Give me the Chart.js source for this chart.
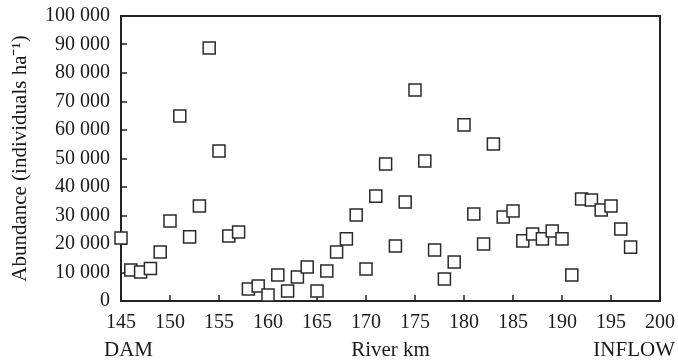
<!DOCTYPE html>
<html>
<head>
<meta charset="utf-8">
<script src="https://cdn.jsdelivr.net/npm/chart.js@4.4.0/dist/chart.umd.min.js"></script>
<style>
  html, body { margin: 0; padding: 0; background: #fff; }
  #wrap { width: 678px; height: 363px; }
</style>
</head>
<body>
<div id="wrap"><canvas id="grafico" width="678" height="363"></canvas></div>
<script>
// datos
const riverKm = [145, 146, 147, 148, 149, 150, 151, 152, 153, 154, 155, 156, 157, 158, 159, 160, 161, 162,
  163, 164, 165, 166, 167, 168, 169, 170, 171, 172, 173, 174, 175, 176, 177, 178, 179, 180, 181, 182,
  183, 184, 185, 186, 187, 188, 189, 190, 191, 192, 193, 194, 195, 196, 197];
const abundance = [22100, 10900, 10200, 11400, 17200, 28100, 64900, 22500, 33300, 88800, 52600, 22800, 24200,
  4200, 5300, 2100, 9100, 3500, 8400, 11900, 3500, 10500, 17200, 21800, 30200, 11200, 36800, 48100,
  19300, 34700, 74000, 49100, 17900, 7700, 13700, 61800, 30500, 20000, 55100, 29500, 31600, 21100,
  23500, 21800, 24600, 21800, 9100, 35800, 35400, 31900, 33300, 25300, 18900];
const xTicks = [145, 150, 155, 160, 165, 170, 175, 180, 185, 190, 195, 200];
const yTicks = [0, 10000, 20000, 30000, 40000, 50000, 60000, 70000, 80000, 90000, 100000];

const serif = '"Liberation Serif", "Times New Roman", serif';
const ink = '#1a1a1a';

function conEspacios(v) {
  return String(v).replace(/\B(?=(\d{3})+(?!\d))/g, ' ');
}

// marco con rectangulos rellenos (ejes, borde superior/derecho y ticks hacia dentro)
function dibujarMarco(chart) {
  const ctx = chart.ctx;
  const a = chart.chartArea;
  const x = chart.scales.x, y = chart.scales.y;
  const l = Math.round(a.left), r = Math.round(a.right), t = Math.round(a.top), b = Math.round(a.bottom);
  ctx.save();
  ctx.fillStyle = '#222';
  ctx.fillRect(l - 1, t - 1, r - l + 2, 2);
  ctx.fillRect(l - 1, b - 1, r - l + 2, 2);
  ctx.fillRect(l - 1, t - 1, 2, b - t + 2);
  ctx.fillRect(r - 1, t - 1, 2, b - t + 2);
  xTicks.forEach(v => {
    const px = Math.round(x.getPixelForValue(v));
    ctx.fillRect(px - 0.75, b - 6, 1.5, 6);
  });
  yTicks.forEach(v => {
    const py = Math.round(y.getPixelForValue(v));
    ctx.fillRect(l, py - 0.75, 6, 1.5);
  });
  ctx.restore();
}

const marco = {
  id: 'marco',
  beforeDatasetsDraw(chart) {
    dibujarMarco(chart);
  },
  afterDraw(chart) {
    const ctx = chart.ctx;
    ctx.save();
    ctx.fillStyle = ink;
    ctx.font = '21px ' + serif;
    ctx.textBaseline = 'middle';
    ctx.textAlign = 'left';
    ctx.fillText('DAM', 104, 350.5);
    ctx.textAlign = 'right';
    ctx.fillText('INFLOW', 675, 350.5);
    ctx.restore();
  }
};

function sinRelleno(s) {
  s.paddingTop = 0; s.paddingBottom = 0; s.paddingLeft = 0; s.paddingRight = 0;
}

new Chart(document.getElementById('grafico').getContext('2d'), {
  type: 'scatter',
  data: {
    datasets: [{
      label: 'Abundance',
      data: riverKm.map((km, i) => ({ x: km, y: abundance[i] })),
      pointStyle: 'rect',
      pointRadius: 8.5,
      pointBorderWidth: 1.5,
      pointBorderColor: '#2a2a2a',
      pointBackgroundColor: '#fff',
      clip: false
    }]
  },
  options: {
    responsive: false,
    devicePixelRatio: 1,
    animation: false,
    events: [],
    layout: { autoPadding: false, padding: { top: 16, right: 18, left: 0, bottom: 0 } },
    plugins: { legend: { display: false }, tooltip: { enabled: false } },
    scales: {
      x: {
        type: 'linear',
        min: 145, max: 200,
        afterFit(s) { s.height = 62; sinRelleno(s); },
        afterBuildTicks(s) { s.ticks = xTicks.map(v => ({ value: v })); },
        grid: { display: false, drawTicks: false },
        border: { display: false },
        ticks: { font: { family: serif, size: 20 }, color: ink, padding: 10, maxRotation: 0 },
        title: {
          display: true, text: 'River km', color: ink,
          font: { family: serif, size: 21, lineHeight: 1.2 },
          padding: { top: 0, bottom: 0 }
        }
      },
      y: {
        min: 0, max: 100000,
        afterFit(s) { s.width = 121; sinRelleno(s); },
        afterBuildTicks(s) { s.ticks = yTicks.map(v => ({ value: v })); },
        grid: { display: false, drawTicks: false },
        border: { display: false },
        ticks: { font: { family: serif, size: 20 }, color: ink, padding: 11, callback: v => conEspacios(v) },
        title: {
          display: true, text: 'Abundance (individuals ha⁻¹)', color: ink,
          font: { family: serif, size: 21, lineHeight: 1.2 },
          padding: { top: 8, bottom: 0 }
        }
      }
    }
  },
  plugins: [marco]
});
</script>
</body>
</html>
